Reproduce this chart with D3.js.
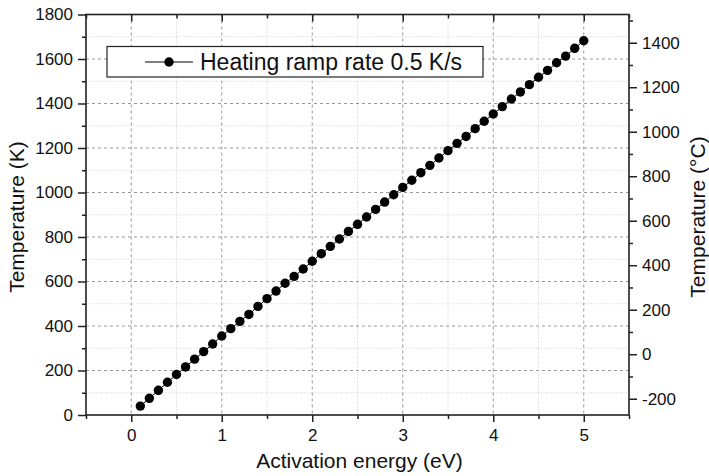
<!DOCTYPE html>
<html>
<head>
<meta charset="utf-8">
<script src="https://cdn.jsdelivr.net/npm/d3@7"></script>
<style>
  body { margin: 0; background: #fff; }
  svg { display: block; font-family: "Liberation Sans", Arial, sans-serif; }
</style>
</head>
<body>
<div id="chart"></div>
<script>
// Data
const energy = [0.1, 0.2, 0.3, 0.4, 0.5, 0.6, 0.7, 0.8, 0.9, 1.0,
                1.1, 1.2, 1.3, 1.4, 1.5, 1.6, 1.7, 1.8, 1.9, 2.0,
                2.1, 2.2, 2.3, 2.4, 2.5, 2.6, 2.7, 2.8, 2.9, 3.0,
                3.1, 3.2, 3.3, 3.4, 3.5, 3.6, 3.7, 3.8, 3.9, 4.0,
                4.1, 4.2, 4.3, 4.4, 4.5, 4.6, 4.7, 4.8, 4.9, 5.0];
const tempK = [40, 75, 111, 147, 182, 216, 251, 285, 319, 355,
               388, 421, 452, 488, 523, 557, 592, 623, 656, 691,
               725, 758, 791, 825, 857, 890, 924, 957, 990, 1023,
               1055, 1089, 1122, 1155, 1188, 1221, 1252, 1287, 1320, 1353,
               1386, 1420, 1452, 1485, 1518, 1549, 1583, 1613, 1648, 1682];
const seriesName = "Heating ramp rate 0.5 K/s";

const xMajor = [0, 1, 2, 3, 4, 5];
const xMinor = [-0.5, 0.5, 1.5, 2.5, 3.5, 4.5, 5.5];
const yMajorK = [0, 200, 400, 600, 800, 1000, 1200, 1400, 1600, 1800];
const yMinorK = [100, 300, 500, 700, 900, 1100, 1300, 1500, 1700];
const yMajorC = [-200, 0, 200, 400, 600, 800, 1000, 1200, 1400];
const yMinorC = [-100, 100, 300, 500, 700, 900, 1100, 1300, 1500];

// Dimensions
const W = 709, H = 476;
const margin = { top: 14.5, right: 80, bottom: 61, left: 86 };
const width = W - margin.left - margin.right;
const height = H - margin.top - margin.bottom;

const svg = d3.select("#chart").append("svg")
    .attr("width", W)
    .attr("height", H);

const g = svg.append("g")
    .attr("transform", `translate(${margin.left},${margin.top})`);

// Scales
const x = d3.scaleLinear().domain([-0.5, 5.5]).range([0, width]);
const y = d3.scaleLinear().domain([0, 1800]).range([height, 0]);
const yC = d3.scaleLinear().domain([-273.15, 1800 - 273.15]).range([height, 0]);

// plain hyphen for negatives, like the original
const fmt = d => String(d);

// Grid: minor dotted, major dashed
const grid = g.append("g");
grid.selectAll(".vminor").data(xMinor.filter(d => d > -0.5 && d < 5.5)).enter().append("line")
    .attr("x1", d => x(d)).attr("x2", d => x(d))
    .attr("y1", 0).attr("y2", height)
    .attr("stroke", "#d4d4d4").attr("stroke-width", 1).attr("stroke-dasharray", "1,1.5");
grid.selectAll(".hminor").data(yMinorK).enter().append("line")
    .attr("x1", 0).attr("x2", width)
    .attr("y1", d => y(d)).attr("y2", d => y(d))
    .attr("stroke", "#d4d4d4").attr("stroke-width", 1).attr("stroke-dasharray", "1,1.5");
grid.selectAll(".vmajor").data(xMajor).enter().append("line")
    .attr("x1", d => x(d)).attr("x2", d => x(d))
    .attr("y1", 0).attr("y2", height)
    .attr("stroke", "#999").attr("stroke-width", 1).attr("stroke-dasharray", "3,3");
grid.selectAll(".hmajor").data(yMajorK.filter(d => d > 0 && d < 1800)).enter().append("line")
    .attr("x1", 0).attr("x2", width)
    .attr("y1", d => y(d)).attr("y2", d => y(d))
    .attr("stroke", "#999").attr("stroke-width", 1).attr("stroke-dasharray", "3,3");

// Axes
function styleAxis(sel) {
    sel.select(".domain").remove();
    sel.selectAll("line").attr("stroke", "#222").attr("stroke-width", 1.5);
    sel.selectAll("text").attr("fill", "#111").style("font-size", "17px")
        .style("font-family", "'Liberation Sans', Arial, sans-serif");
}

const xAxis = g.append("g").attr("transform", `translate(0,${height})`)
    .call(d3.axisBottom(x).tickValues(xMajor).tickSize(7).tickPadding(7).tickFormat(fmt));
styleAxis(xAxis);
const xAxisMinor = g.append("g").attr("transform", `translate(0,${height})`)
    .call(d3.axisBottom(x).tickValues(xMinor).tickSize(4).tickFormat(""));
styleAxis(xAxisMinor);

const topAxis = g.append("g")
    .call(d3.axisBottom(x).tickValues(xMajor).tickSize(7).tickFormat(""));
styleAxis(topAxis);
const topAxisMinor = g.append("g")
    .call(d3.axisBottom(x).tickValues(xMinor).tickSize(4).tickFormat(""));
styleAxis(topAxisMinor);

const yAxis = g.append("g")
    .call(d3.axisLeft(y).tickValues(yMajorK).tickSize(8).tickPadding(5).tickFormat(fmt));
styleAxis(yAxis);
const yAxisMinor = g.append("g")
    .call(d3.axisLeft(y).tickValues(yMinorK).tickSize(4).tickFormat(""));
styleAxis(yAxisMinor);

const yAxisR = g.append("g").attr("transform", `translate(${width},0)`)
    .call(d3.axisRight(yC).tickValues(yMajorC).tickSize(8).tickPadding(5).tickFormat(fmt));
styleAxis(yAxisR);
const yAxisRMinor = g.append("g").attr("transform", `translate(${width},0)`)
    .call(d3.axisRight(yC).tickValues(yMinorC).tickSize(4).tickFormat(""));
styleAxis(yAxisRMinor);

// Frame
g.append("rect")
    .attr("width", width).attr("height", height)
    .attr("fill", "none").attr("stroke", "#222").attr("stroke-width", 1.6);

// Points and connecting line
const points = energy.map((e, i) => ({ e, t: tempK[i] }));
g.append("path")
    .datum(points)
    .attr("fill", "none").attr("stroke", "#000").attr("stroke-width", 1)
    .attr("d", d3.line().x(d => x(d.e)).y(d => y(d.t)));
g.selectAll(".pt").data(points).enter().append("circle")
    .attr("cx", d => x(d.e)).attr("cy", d => y(d.t))
    .attr("r", 4.7).attr("fill", "#000");

// Axis titles
g.append("text")
    .attr("x", width / 2 + 2).attr("y", height + 53)
    .attr("text-anchor", "middle").style("font-size", "21px").attr("fill", "#111")
    .text("Activation energy (eV)");
g.append("text")
    .attr("transform", `translate(${-margin.left + 24},${202.5}) rotate(-90)`)
    .attr("text-anchor", "middle").style("font-size", "21px").attr("fill", "#111")
    .text("Temperature (K)");
g.append("text")
    .attr("transform", `translate(${width + 76},${202.5}) rotate(-90)`)
    .attr("text-anchor", "middle").style("font-size", "21px").attr("fill", "#111")
    .text("Temperature (°C)");

// Legend
const legend = svg.append("g");
legend.append("rect")
    .attr("x", 107).attr("y", 46.5).attr("width", 376).attr("height", 30.5)
    .attr("fill", "#fff").attr("stroke", "#222").attr("stroke-width", 1.2);
legend.append("line")
    .attr("x1", 145).attr("x2", 193).attr("y1", 62).attr("y2", 62)
    .attr("stroke", "#000").attr("stroke-width", 1);
legend.append("circle")
    .attr("cx", 169).attr("cy", 62).attr("r", 4.7).attr("fill", "#000");
legend.append("text")
    .attr("x", 200).attr("y", 70)
    .style("font-size", "23px").attr("fill", "#111")
    .text(seriesName);
</script>
</body>
</html>
